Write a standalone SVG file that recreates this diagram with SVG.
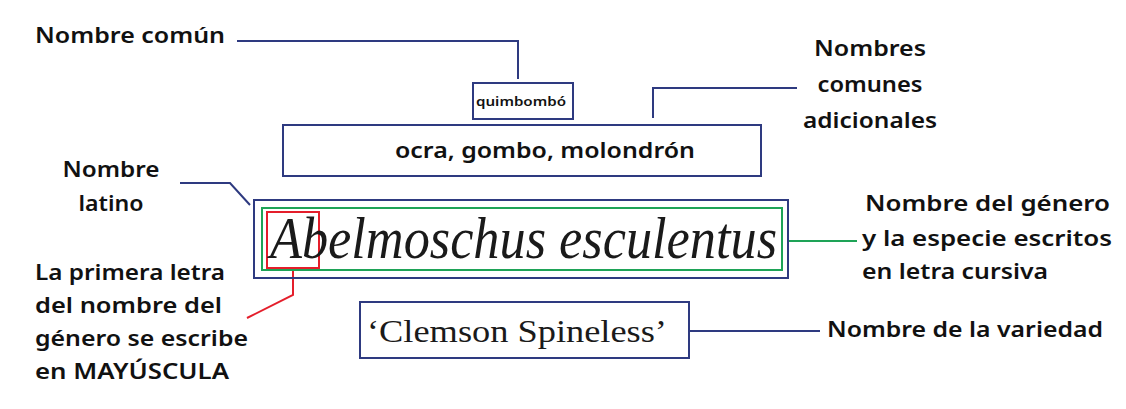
<svg xmlns="http://www.w3.org/2000/svg" width="1126" height="409" viewBox="0 0 1126 409">
<style>
.lbl{font-family:"Noto Sans","Liberation Sans",sans-serif;font-weight:600;font-size:21px;fill:#111}
.box{fill:none;stroke:#2e3a80;stroke-width:2}
.con{fill:none;stroke:#2e3a80;stroke-width:2}
.serif{font-family:"Liberation Serif",serif;fill:#1a1a1a}
</style>
<rect width="1126" height="409" fill="#ffffff"/>
<g id="connectors">
<polyline class="con" points="237,41 518,41 518,79"/>
<polyline class="con" points="797,88 653,88 653,118"/>
<polyline class="con" points="180,183 230,183 250,205"/>
<line x1="788" y1="241" x2="857" y2="241" stroke="#1ea357" stroke-width="2"/>
<polyline points="293,268 293,295 247,318" fill="none" stroke="#e41e2b" stroke-width="2"/>
<line class="con" x1="690" y1="331" x2="820" y2="331"/>
</g>
<g id="label-nombre-comun">
<text class="lbl" x="35" y="43" textLength="190" lengthAdjust="spacingAndGlyphs">Nombre común</text>
</g>
<g id="node-quimbombo">
<rect class="box" x="473" y="83" width="100" height="36"/>
<text x="521" y="106" text-anchor="middle" font-family="Noto Sans, Liberation Sans, sans-serif" font-weight="600" font-size="13" fill="#111" textLength="90" lengthAdjust="spacingAndGlyphs">quimbombó</text>
</g>
<g id="label-nombres-adicionales">
<text class="lbl" x="870" y="56" text-anchor="middle" textLength="112" lengthAdjust="spacingAndGlyphs">Nombres</text>
<text class="lbl" x="870" y="92" text-anchor="middle" textLength="105" lengthAdjust="spacingAndGlyphs">comunes</text>
<text class="lbl" x="870" y="128" text-anchor="middle" textLength="134" lengthAdjust="spacingAndGlyphs">adicionales</text>
</g>
<g id="node-ocra">
<rect class="box" x="283" y="125" width="478" height="51"/>
<text x="545" y="158" text-anchor="middle" font-family="Noto Sans, Liberation Sans, sans-serif" font-weight="600" font-size="22" fill="#111" textLength="300" lengthAdjust="spacingAndGlyphs">ocra, gombo, molondrón</text>
</g>
<g id="label-nombre-latino">
<text class="lbl" x="111" y="177" text-anchor="middle" textLength="97" lengthAdjust="spacingAndGlyphs">Nombre</text>
<text class="lbl" x="111" y="211" text-anchor="middle" textLength="65" lengthAdjust="spacingAndGlyphs">latino</text>
</g>
<g id="node-latin">
<rect class="box" x="254" y="200" width="534" height="78"/>
<rect x="262" y="208" width="520" height="62" fill="none" stroke="#1ea357" stroke-width="2"/>
<rect x="267" y="212" width="52" height="56" fill="none" stroke="#e41e2b" stroke-width="2"/>
<text class="serif" x="270" y="258" font-style="italic" font-size="60" textLength="507" lengthAdjust="spacingAndGlyphs">Abelmoschus esculentus</text>
</g>
<g id="label-genero-especie">
<text class="lbl" x="865" y="211" textLength="245" lengthAdjust="spacingAndGlyphs">Nombre del género</text>
<text class="lbl" x="862" y="246" textLength="250" lengthAdjust="spacingAndGlyphs">y la especie escritos</text>
<text class="lbl" x="862" y="279" textLength="186" lengthAdjust="spacingAndGlyphs">en letra cursiva</text>
</g>
<g id="label-mayuscula">
<text class="lbl" x="35" y="280" textLength="190" lengthAdjust="spacingAndGlyphs">La primera letra</text>
<text class="lbl" x="35" y="313" textLength="187" lengthAdjust="spacingAndGlyphs">del nombre del</text>
<text class="lbl" x="35" y="346" textLength="213" lengthAdjust="spacingAndGlyphs">género se escribe</text>
<text class="lbl" x="35" y="379" textLength="194" lengthAdjust="spacingAndGlyphs">en MAYÚSCULA</text>
</g>
<g id="node-variedad">
<rect class="box" x="360" y="302" width="329" height="56"/>
<text class="serif" x="367" y="342" font-size="31" textLength="300" lengthAdjust="spacingAndGlyphs">‘Clemson Spineless’</text>
</g>
<g id="label-variedad">
<text class="lbl" x="827" y="337" textLength="276" lengthAdjust="spacingAndGlyphs">Nombre de la variedad</text>
</g>
</svg>
